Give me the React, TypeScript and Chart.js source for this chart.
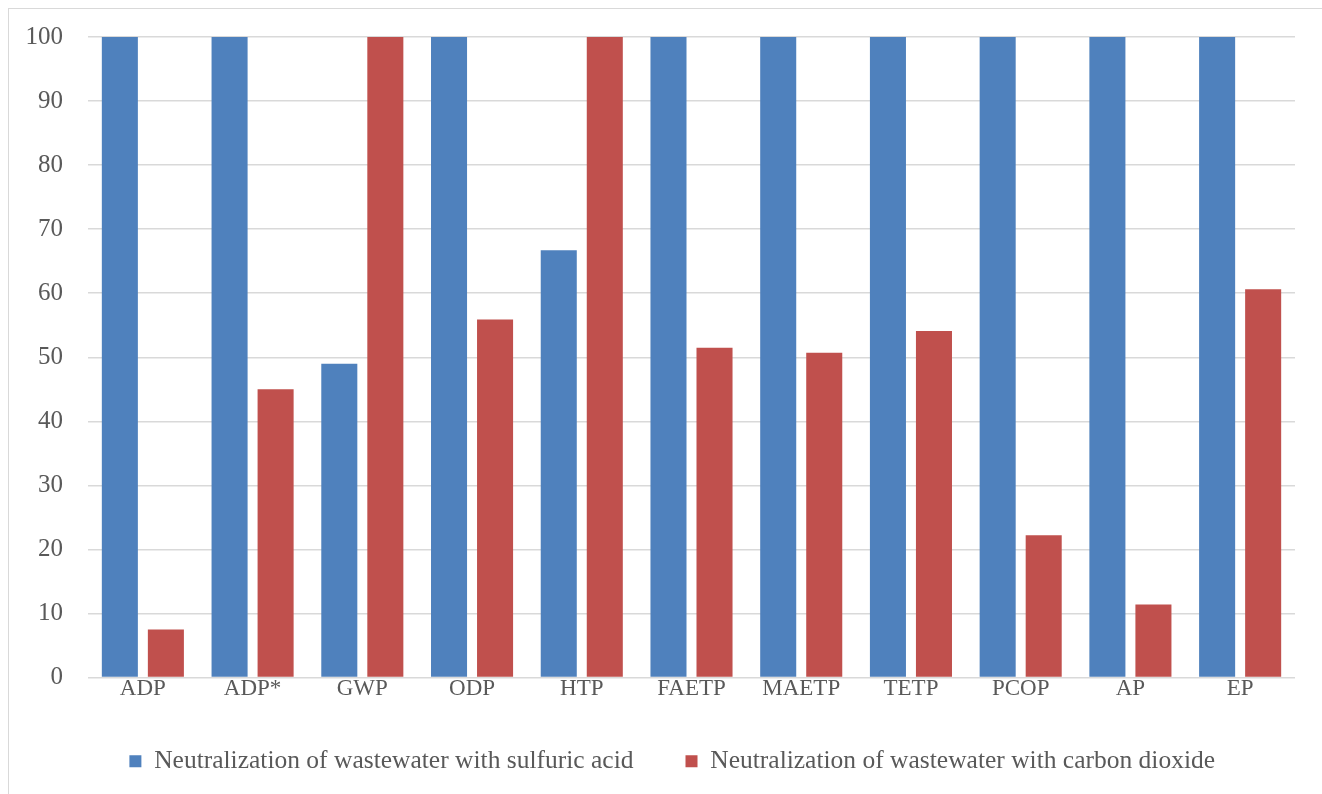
import React, { useEffect, useRef } from "react";
import { Chart, registerables } from "chart.js";

Chart.register(...registerables);

const categories = ["ADP", "ADP*", "GWP", "ODP", "HTP", "FAETP", "MAETP", "TETP", "PCOP", "AP", "EP"];
const sulfuricAcid = [100, 100, 49, 100, 66.7, 100, 100, 100, 100, 100, 100];
const carbonDioxide = [7.5, 45, 100, 55.9, 100, 51.5, 50.7, 54.1, 22.2, 11.4, 60.6];
const seriesNames = [
  "Neutralization of wastewater with sulfuric acid",
  "Neutralization of wastewater with carbon dioxide",
];
const yTicks = { min: 0, max: 100, step: 10 };

const FONT = "'Liberation Serif', serif";
const TEXT = "#595959";

export default function App() {
  const ref = useRef<HTMLCanvasElement | null>(null);
  useEffect(() => {
    if (!ref.current) return;
    const chart = new Chart(ref.current, {
      type: "bar",
      data: {
        labels: categories,
        datasets: [
          { label: seriesNames[0], data: sulfuricAcid, backgroundColor: "#4F81BD", categoryPercentage: 0.839, barPercentage: 0.783 },
          { label: seriesNames[1], data: carbonDioxide, backgroundColor: "#C0504D", categoryPercentage: 0.839, barPercentage: 0.783 },
        ],
      },
      options: {
        animation: false,
        responsive: true,
        maintainAspectRatio: false,
        layout: { padding: { top: 28, right: 28, bottom: 24, left: 40.5 } },
        plugins: {
          tooltip: { enabled: false },
          legend: {
            position: "bottom",
            labels: {
              boxWidth: 12,
              boxHeight: 12,
              padding: 52,
              color: TEXT,
              font: { family: FONT, size: 25.5 },
            },
          },
        },
        scales: {
          x: {
            grid: { display: false, drawTicks: false },
            border: { display: false },
            ticks: { color: TEXT, font: { family: FONT, size: 23 }, padding: -25, mirror: true },
            afterFit: (s: any) => { s.height = 19; },
          },
          y: {
            min: yTicks.min,
            max: yTicks.max,
            grid: { color: "#D9D9D9", lineWidth: 1.5, drawTicks: false },
            border: { display: false },
            ticks: { stepSize: yTicks.step, color: TEXT, font: { family: FONT, size: 25 }, padding: -62.5, mirror: true, crossAlign: "far" },
            afterFit: (s: any) => { s.width = 38.5; },
          },
        },
      },
    });
    return () => chart.destroy();
  }, []);
  return (
    <div style={{ position: "fixed", top: 8, left: 8, width: 1314, height: 799, borderTop: "1px solid #D9D9D9", borderLeft: "1px solid #D9D9D9", background: "#fff" }}>
      <div style={{ position: "relative", width: "100%", height: "100%" }}>
        <canvas ref={ref} />
      </div>
    </div>
  );
}
